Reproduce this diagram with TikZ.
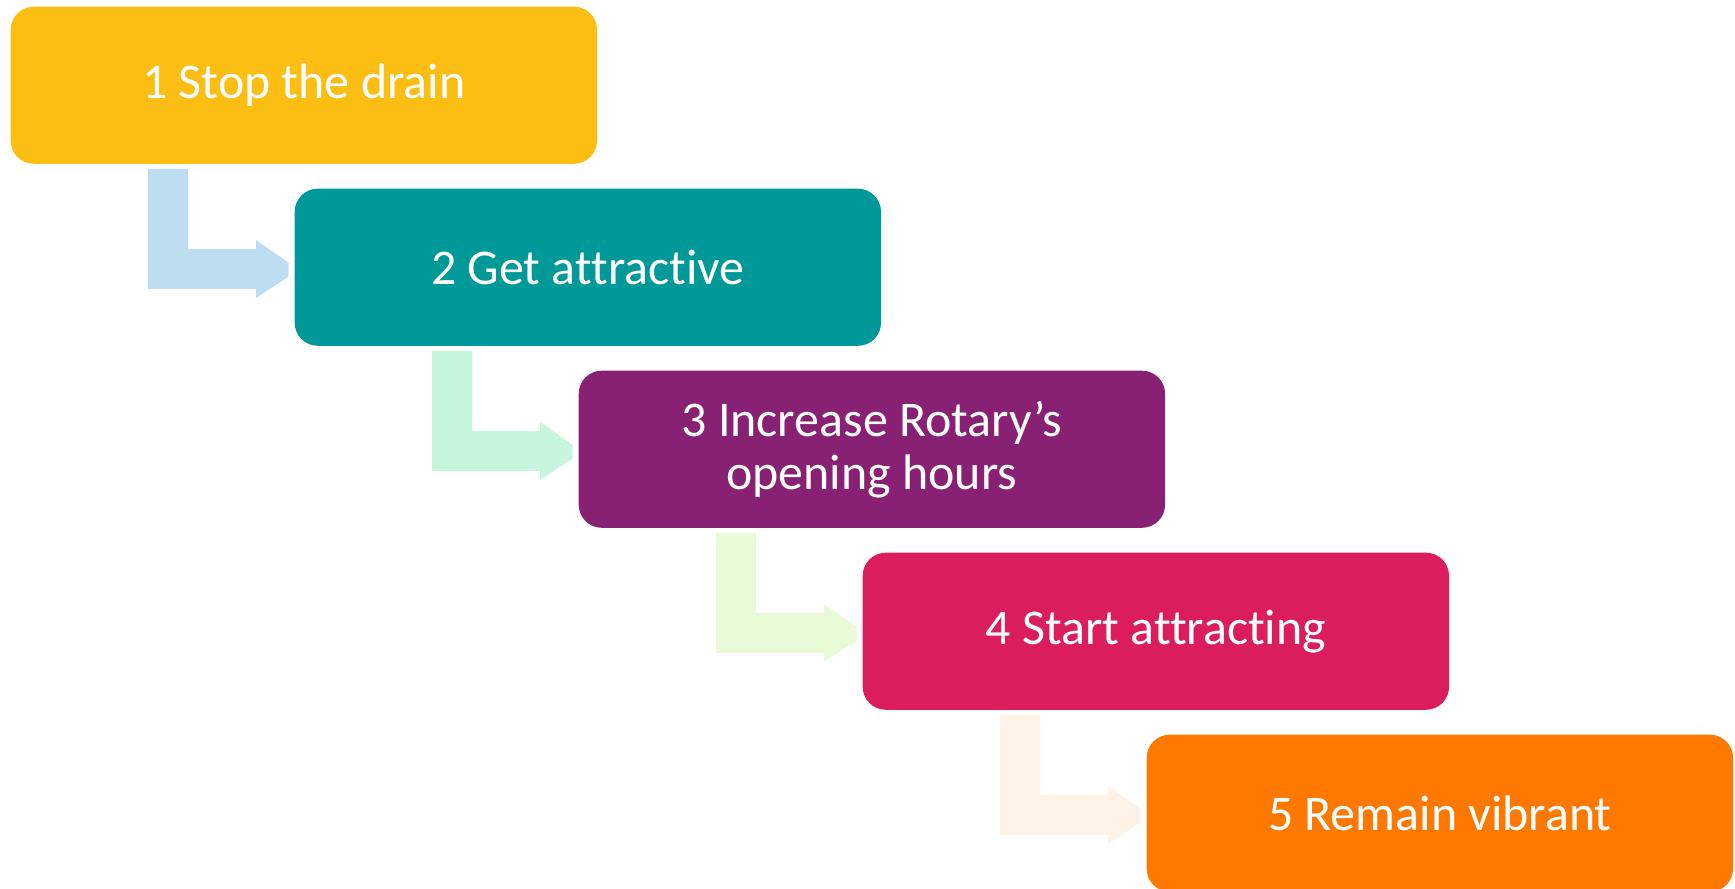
\documentclass[tikz,border=0pt]{standalone}
\usepackage{fontspec}
\setmainfont{Carlito}[Ligatures={NoCommon}]
\usetikzlibrary{positioning,calc}

\definecolor{stepone}{RGB}{253,190,20}
\definecolor{steptwo}{RGB}{0,153,153}
\definecolor{stepthree}{RGB}{136,33,115}
\definecolor{stepfour}{RGB}{219,29,94}
\definecolor{stepfive}{RGB}{255,120,0}
\definecolor{bendone}{RGB}{189,222,241}
\definecolor{bendtwo}{RGB}{198,246,222}
\definecolor{bendthree}{RGB}{232,251,214}
\definecolor{bendfour}{RGB}{255,243,232}

\begin{document}
\begin{tikzpicture}[x=0.01cm, y=-0.01cm,
	stepbox/.style = {rounded corners=0.23cm, anchor=north west,
		minimum width=5.86cm, minimum height=1.57cm, inner sep=0pt,
		text=white, align=center, font=\fontsize{14.2}{15.1}\selectfont}]
\clip (0,0) rectangle (1735,889);
\node [stepbox, fill=stepone]   (s1) at (10,6)     {1 Stop the drain};
\node [stepbox, fill=steptwo]   (s2) at (294,188)  {2 Get attractive};
\node [stepbox, fill=stepthree] (s3) at (578,370)  {3 Increase Rotary’s\\opening hours};
\node [stepbox, fill=stepfour]  (s4) at (862,552)  {4 Start attracting};
\node [stepbox, fill=stepfive]  (s5) at (1146,734) {5 Remain vibrant};
\foreach \i/\c in {1/bendone, 2/bendtwo, 3/bendthree, 4/bendfour}
\fill [\c] ($(s\i.north west)+(138,163)$)
	-- ++(40,0) -- ++(0,80) -- ++(68,0) -- ++(0,-9)
	-- ++(32.5,22.7) -- ++(0,14) -- ++(-32.5,21.3)
	-- ++(0,-9) -- ++(-108,0) -- cycle;
\end{tikzpicture}
\end{document}
